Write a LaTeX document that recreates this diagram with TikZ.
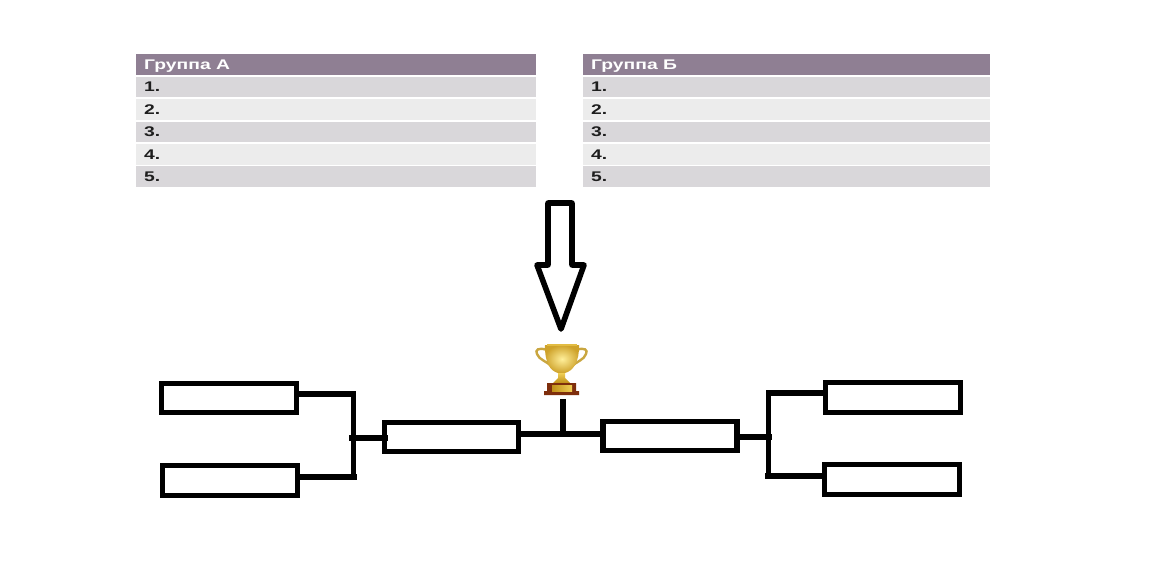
\documentclass[tikz,border=0pt]{standalone}
\usepackage{fontspec}
\setmainfont{Liberation Sans}
\newfontfamily\tablefont[FakeStretch=1.38]{Liberation Sans Bold}
\definecolor{headfill}{HTML}{8F7F93}
\definecolor{rowdark}{HTML}{D9D7DA}
\definecolor{rowlight}{HTML}{ECECEC}
\definecolor{numtext}{HTML}{1E1E1E}
\definecolor{goldmid}{HTML}{F0CF55}
\definecolor{golddark}{HTML}{C08F18}
\definecolor{goldhandle}{HTML}{C9A640}
\definecolor{goldlight}{HTML}{FFEF9A}
\definecolor{basebrown}{HTML}{7E2E0C}
\tikzset{
  headtext/.style={inner sep=0pt,anchor=base west,text=white,font=\tablefont\fontsize{14}{16}\selectfont},
  rowtext/.style={inner sep=0pt,anchor=base west,text=numtext,font=\tablefont\fontsize{14}{16}\selectfont},
  slotbox/.style={draw=black,line width=5.4pt,fill=white,inner sep=0pt,outer sep=0pt,anchor=center,miter limit=10},
  wire/.style={draw=black,line width=5.2pt,line cap=butt},
  bigarrow/.style={draw=black,line width=5.6pt,fill=white,line join=round},
}
\newcommand{\tablecells}[2]{% x0, x1
  \fill[headfill] (#1,54) rectangle (#2,75);
  \fill[rowdark]  (#1,77) rectangle (#2,97.5);
  \fill[rowlight] (#1,99) rectangle (#2,120);
  \fill[rowdark]  (#1,122) rectangle (#2,142);
  \fill[rowlight] (#1,144) rectangle (#2,164.5);
  \fill[rowdark]  (#1,166) rectangle (#2,187);
}
\begin{document}
\begin{tikzpicture}[x=1pt,y=-1pt]
\useasboundingbox (0,0) rectangle (1152,586);
\fill[white] (0,0) rectangle (1152,586);

% tables
\tablecells{136}{536}
\node[headtext] (ga) at (144,69.5) {Группа А};
\node[rowtext] (a1) at (144,92) {1.};
\node[rowtext] (a2) at (144,114.5) {2.};
\node[rowtext] (a3) at (144,136.5) {3.};
\node[rowtext] (a4) at (144,159) {4.};
\node[rowtext] (a5) at (144,181.5) {5.};
\tablecells{583}{990}
\node[headtext] (gb) at (591,69.5) {Группа Б};
\node[rowtext] (b1) at (591,92) {1.};
\node[rowtext] (b2) at (591,114.5) {2.};
\node[rowtext] (b3) at (591,136.5) {3.};
\node[rowtext] (b4) at (591,159) {4.};
\node[rowtext] (b5) at (591,181.5) {5.};

% big arrow
\draw[bigarrow] (548,203) -- (572,203) -- (572,265) -- (584,265) -- (561,329) -- (537,265) -- (548,265) -- cycle;

% trophy
\draw[goldhandle,line width=2.4pt] (547,350) .. controls (538,347) and (535,350) .. (537,354) .. controls (539,360) and (547,361) .. (552,367);
\draw[goldhandle,line width=2.4pt] (576,350) .. controls (585,347) and (588,350) .. (586,354) .. controls (584,360) and (577,361) .. (571,367);
\shade[inner color=goldlight,outer color=golddark!70!goldmid]
  (545,345) -- (579,345) .. controls (579.5,362) and (573,371) .. (565,373) -- (558,373) .. controls (550,371) and (544.5,362) .. (545,345) -- cycle;
\shade[top color=goldmid,bottom color=golddark] (558,373) -- (565,373) -- (565,378) -- (570,383) -- (553,383) -- (558,378) -- cycle;
\fill[goldmid!70!golddark] (547,343.5) rectangle (577,345.5);
\fill[basebrown] (547,383) rectangle (576,391) (544,391) rectangle (579,395);
\shade[left color=golddark,right color=goldmid] (552,385) rectangle (572,391);

% junction coordinates
\coordinate (jl) at (353.5,438);
\coordinate (jlt) at (353.5,394);
\coordinate (jlb) at (353.5,477);
\coordinate (jr) at (768.5,437);
\coordinate (jrt) at (768.5,393);
\coordinate (jrb) at (768.5,476);
\coordinate (jc) at (563,434);
\coordinate (cup) at (563,399);

% boxes
\node[slotbox,minimum width=135.5pt,minimum height=29.5pt] (lt) at (229,398) {};
\node[slotbox,minimum width=135.5pt,minimum height=30pt] (lb) at (230,480.5) {};
\node[slotbox,minimum width=134pt,minimum height=29.5pt] (lm) at (451.5,437) {};
\node[slotbox,minimum width=134pt,minimum height=29.5pt] (rm) at (670,436) {};
\node[slotbox,minimum width=135.5pt,minimum height=30pt] (rt) at (893,397.5) {};
\node[slotbox,minimum width=135.5pt,minimum height=30pt] (rb) at (892,479.5) {};

% connectors
\draw[wire] (lt.east |- jlt) -- ([xshift=2.6pt]jlt);
\draw[wire] (lb.east |- jlb) -- ([xshift=3.5pt]jlb);
\draw[wire] ([yshift=-2pt]jlt) -- (jlb);
\draw[wire] ([xshift=-4.5pt]jl) -- ([xshift=3pt]jl -| lm.west);
\draw[wire] (lm.east |- jc) -- (rm.west |- jc);
\draw[wire] (cup) -- (jc);
\draw[wire] (rt.west |- jrt) -- ([xshift=-2.6pt]jrt);
\draw[wire] (rb.west |- jrb) -- ([xshift=-4pt]jrb);
\draw[wire] ([yshift=-2pt]jrt) -- ([yshift=2pt]jrb);
\draw[wire] ([xshift=-3pt]jr -| rm.east) -- ([xshift=3.5pt]jr);
\end{tikzpicture}
\end{document}
